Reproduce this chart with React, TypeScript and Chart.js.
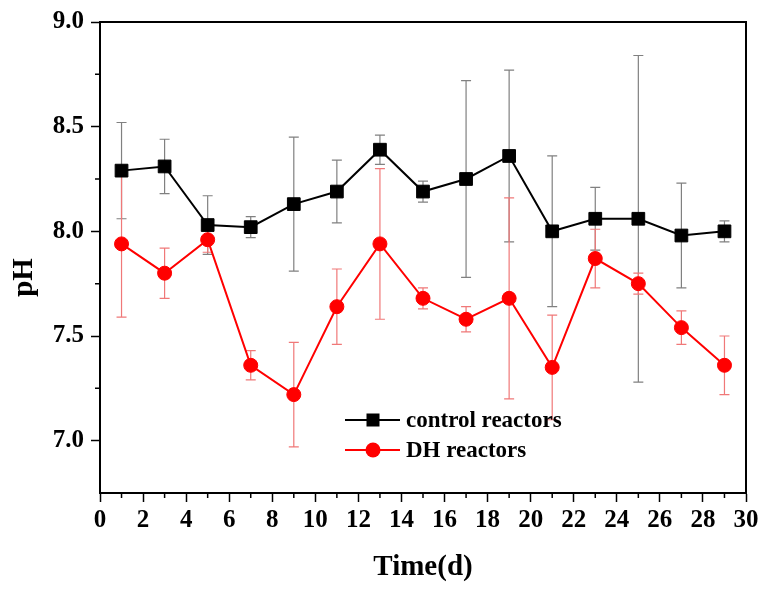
import React, { useEffect, useRef } from 'react';
import { Chart, registerables } from 'chart.js';

Chart.register(...registerables);

const days = [1, 3, 5, 7, 9, 11, 13, 15, 17, 19, 21, 23, 25, 27, 29];
const controlPH = [8.29, 8.31, 8.03, 8.02, 8.13, 8.19, 8.39, 8.19, 8.25, 8.36, 8.0, 8.06, 8.06, 7.98, 8.0];
const controlErr = [0.23, 0.13, 0.14, 0.05, 0.32, 0.15, 0.07, 0.05, 0.47, 0.41, 0.36, 0.15, 0.78, 0.25, 0.05];
const dhPH = [7.94, 7.8, 7.96, 7.36, 7.22, 7.64, 7.94, 7.68, 7.58, 7.68, 7.35, 7.87, 7.75, 7.54, 7.36];
const dhErr = [0.35, 0.12, 0.06, 0.07, 0.25, 0.18, 0.36, 0.05, 0.06, 0.48, 0.25, 0.14, 0.05, 0.08, 0.14];

const xMajorTicks = [0, 2, 4, 6, 8, 10, 12, 14, 16, 18, 20, 22, 24, 26, 28, 30];
const xMinorTicks = [1, 3, 5, 7, 9, 11, 13, 15, 17, 19, 21, 23, 25, 27, 29];
const yMajorTicks = [7.0, 7.5, 8.0, 8.5, 9.0];
const yMinorTicks = [7.25, 7.75, 8.25, 8.75];

const seriesNames = ['control reactors', 'DH reactors'];
const xTitle = 'Time(d)';
const yTitle = 'pH';

const FONT = '"Liberation Serif", "Times New Roman", serif';

const errorBarPlugin = {
  id: 'errorBars',
  beforeDatasetsDraw(chart: any) {
    const { ctx, scales } = chart;
    const xs = scales.x;
    const ys = scales.y;
    chart.data.datasets.forEach((ds: any) => {
      const errs: number[] = ds.errors || [];
      ctx.save();
      ctx.strokeStyle = ds.errorColor;
      ctx.lineWidth = 1.2;
      ds.data.forEach((p: any, i: number) => {
        const e = errs[i];
        if (e == null) return;
        const px = xs.getPixelForValue(p.x);
        const t = ys.getPixelForValue(p.y + e);
        const b = ys.getPixelForValue(p.y - e);
        ctx.beginPath();
        ctx.moveTo(px, t);
        ctx.lineTo(px, b);
        ctx.moveTo(px - 5, t);
        ctx.lineTo(px + 5, t);
        ctx.moveTo(px - 5, b);
        ctx.lineTo(px + 5, b);
        ctx.stroke();
      });
      ctx.restore();
    });
  },
};

const framePlugin = {
  id: 'frame',
  beforeDatasetsDraw(chart: any) {
    const { ctx, chartArea, scales } = chart;
    const { left, right, top, bottom } = chartArea;
    ctx.save();
    ctx.strokeStyle = '#000';
    ctx.lineWidth = 2;
    ctx.beginPath();
    ctx.moveTo(left, top);
    ctx.lineTo(right, top);
    ctx.lineTo(right, bottom);
    ctx.stroke();
    ctx.lineWidth = 1.5;
    ctx.beginPath();
    xMinorTicks.forEach((v) => {
      const px = scales.x.getPixelForValue(v);
      ctx.moveTo(px, bottom);
      ctx.lineTo(px, bottom + 5);
    });
    yMinorTicks.forEach((v) => {
      const py = scales.y.getPixelForValue(v);
      ctx.moveTo(left, py);
      ctx.lineTo(left - 5, py);
    });
    ctx.stroke();
    ctx.restore();
  },
};

const titlesLegendPlugin = {
  id: 'titlesLegend',
  afterDraw(chart: any) {
    const { ctx, chartArea } = chart;
    const { left, right, top, bottom } = chartArea;
    ctx.save();
    ctx.fillStyle = '#000';
    ctx.font = `bold 29px ${FONT}`;
    ctx.textAlign = 'center';
    ctx.textBaseline = 'alphabetic';
    ctx.fillText(xTitle, (left + right) / 2, bottom + 82);
    ctx.save();
    ctx.translate(left - 68, (top + bottom) / 2 + 20);
    ctx.rotate(-Math.PI / 2);
    ctx.fillText(yTitle, 0, 0);
    ctx.restore();

    // legend
    const lx = left + 245;
    const ly = top + 398;
    chart.data.datasets.forEach((ds: any, i: number) => {
      const y = ly + i * 30;
      ctx.strokeStyle = ds.borderColor;
      ctx.lineWidth = 2;
      ctx.beginPath();
      ctx.moveTo(lx, y);
      ctx.lineTo(lx + 55, y);
      ctx.stroke();
      ctx.fillStyle = ds.backgroundColor;
      const cx = lx + 28;
      if (ds.pointStyle === 'rect') {
        ctx.fillRect(cx - 6.5, y - 6.5, 13, 13);
      } else {
        ctx.beginPath();
        ctx.arc(cx, y, 7.5, 0, Math.PI * 2);
        ctx.fill();
      }
      ctx.fillStyle = '#000';
      ctx.font = `bold 23px ${FONT}`;
      ctx.textAlign = 'left';
      ctx.textBaseline = 'middle';
      ctx.fillText(ds.label, lx + 61, y + 1);
    });
    ctx.restore();
  },
};

export default function App() {
  const ref = useRef<HTMLCanvasElement>(null);

  useEffect(() => {
    if (!ref.current) return;
    const chart = new Chart(ref.current, {
      type: 'line',
      data: {
        datasets: [
          {
            label: seriesNames[0],
            data: days.map((d, i) => ({ x: d, y: controlPH[i] })),
            errors: controlErr,
            errorColor: '#808080',
            borderColor: '#000000',
            backgroundColor: '#000000',
            pointStyle: 'rect',
            pointRadius: 9,
            pointBorderWidth: 1,
            pointBorderColor: '#000000',
            pointBackgroundColor: '#000000',
            borderWidth: 2,
            tension: 0,
          } as any,
          {
            label: seriesNames[1],
            data: days.map((d, i) => ({ x: d, y: dhPH[i] })),
            errors: dhErr,
            errorColor: '#f07878',
            borderColor: '#ff0000',
            backgroundColor: '#ff0000',
            pointStyle: 'circle',
            pointRadius: 7,
            pointBorderWidth: 1,
            pointBorderColor: '#ff0000',
            pointBackgroundColor: '#ff0000',
            borderWidth: 2,
            tension: 0,
          } as any,
        ],
      },
      options: {
        animation: false,
        responsive: false,
        devicePixelRatio: 1,
        layout: { padding: { top: 19, right: 19, left: 0, bottom: 0 } },
        plugins: {
          legend: { display: false },
          tooltip: { enabled: false },
        },
        scales: {
          x: {
            type: 'linear',
            min: 0,
            max: 30,
            afterBuildTicks: (scale: any) => {
              scale.ticks = xMajorTicks.map((v) => ({ value: v }));
            },
            afterFit: (scale: any) => {
              scale.height = 97;
            },
            grid: {
              drawOnChartArea: false,
              drawTicks: true,
              tickLength: 9,
              tickWidth: 1.5,
              tickColor: '#000',
            },
            border: { display: true, color: '#000', width: 2 },
            ticks: {
              color: '#000',
              padding: 4,
              maxRotation: 0,
              autoSkip: false,
              font: { family: FONT, size: 25, weight: 'bold' },
              callback: (v: any) => String(v),
            },
          },
          y: {
            type: 'linear',
            min: 6.75,
            max: 9.0,
            afterBuildTicks: (scale: any) => {
              scale.ticks = yMajorTicks.map((v) => ({ value: v }));
            },
            afterFit: (scale: any) => {
              scale.width = 100;
            },
            grid: {
              drawOnChartArea: false,
              drawTicks: true,
              tickLength: 9,
              tickWidth: 1.5,
              tickColor: '#000',
            },
            border: { display: true, color: '#000', width: 2 },
            ticks: {
              color: '#000',
              padding: 7,
              autoSkip: false,
              font: { family: FONT, size: 25, weight: 'bold' },
              callback: (v: any) => Number(v).toFixed(1),
            },
          },
        },
      } as any,
      plugins: [errorBarPlugin, framePlugin, titlesLegendPlugin],
    });
    return () => chart.destroy();
  }, []);

  return (
    <div style={{ position: 'absolute', left: 0, top: 0, width: 765, height: 590, background: '#fff' }}>
      <canvas ref={ref} width={765} height={590} />
    </div>
  );
}
